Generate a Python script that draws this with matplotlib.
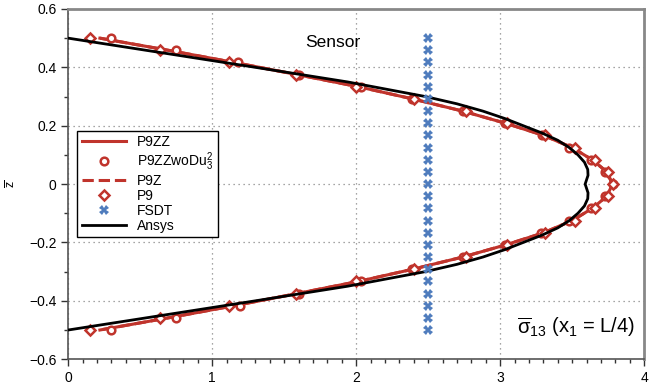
import numpy as np
import matplotlib.pyplot as plt
from matplotlib.ticker import MultipleLocator, FuncFormatter

plt.rcParams['font.family'] = ['Liberation Sans', 'DejaVu Sans']
plt.rcParams['mathtext.fontset'] = 'custom'
plt.rcParams['mathtext.rm'] = 'Liberation Sans'
plt.rcParams['mathtext.it'] = 'Liberation Sans'
plt.rcParams['mathtext.sf'] = 'Liberation Sans'

# thickness coordinate of the red curves
z_red = [0.5, 0.458, 0.417, 0.375, 0.333, 0.292, 0.25, 0.208, 0.167, 0.125, 0.083, 0.042, 0.0,
         -0.042, -0.083, -0.125, -0.167, -0.208, -0.25, -0.292, -0.333, -0.375, -0.417, -0.458, -0.5]

p9zz = [0.22, 0.70, 1.15, 1.59, 2.02, 2.39, 2.74, 3.04, 3.30, 3.50, 3.64, 3.74, 3.78,
        3.74, 3.64, 3.50, 3.30, 3.04, 2.74, 2.39, 2.02, 1.59, 1.15, 0.70, 0.22]
p9zz_wodu = [0.30, 0.75, 1.18, 1.60, 2.03, 2.39, 2.74, 3.03, 3.29, 3.48, 3.63, 3.73, 3.78,
             3.73, 3.63, 3.48, 3.28, 3.03, 2.74, 2.39, 2.03, 1.60, 1.19, 0.75, 0.30]
p9z = p9zz
p9 = [0.15, 0.64, 1.12, 1.58, 2.00, 2.40, 2.76, 3.05, 3.31, 3.52, 3.66, 3.75, 3.78,
      3.75, 3.66, 3.52, 3.31, 3.05, 2.76, 2.40, 2.00, 1.58, 1.12, 0.64, 0.15]

# FSDT at the sensor position
fsdt_x = [2.5] * 25
fsdt_z = [0.5, 0.4583, 0.4167, 0.375, 0.3333, 0.2917, 0.25, 0.2083, 0.1667, 0.125, 0.0833, 0.0417, 0.0,
          -0.0417, -0.0833, -0.125, -0.1667, -0.2083, -0.25, -0.2917, -0.3333, -0.375, -0.4167, -0.4583, -0.5]

# Ansys reference curve
ansys_z = [0.5, 0.45, 0.4, 0.35, 0.3, 0.275, 0.25, 0.225, 0.2, 0.175, 0.15, 0.125, 0.1, 0.075, 0.05, 0.03, 0.012, 0.0,
           -0.012, -0.03, -0.05, -0.075, -0.1, -0.125, -0.15, -0.175, -0.2, -0.225, -0.25, -0.275, -0.3, -0.35, -0.4, -0.45, -0.5]
ansys_x = [0.0, 0.65, 1.30, 1.94, 2.48, 2.70, 2.88, 3.03, 3.16, 3.29, 3.40, 3.48, 3.54, 3.585, 3.608, 3.61, 3.598, 3.59,
           3.598, 3.61, 3.608, 3.585, 3.54, 3.48, 3.40, 3.29, 3.16, 3.03, 2.88, 2.70, 2.48, 1.94, 1.30, 0.65, 0.0]

red = '#c0342c'
blue = '#4f7cbd'

fig = plt.figure(figsize=(6.56, 3.9), dpi=100)
ax = fig.add_axes([0.104, 0.079, 0.878, 0.898])

ax.plot(p9zz, z_red, '-', color=red, lw=2.2, label='P9ZZ', zorder=3)
ax.plot(p9zz_wodu, z_red, 'o', color=red, mfc='white', mew=1.8, ms=5.5,
        linestyle='none', label=r'P9ZZwoDu$^2_3$', zorder=4)
ax.plot(p9z, z_red, '--', color=red, lw=2.2, label='P9Z', zorder=3)
ax.plot(p9, z_red, 'D', color=red, mfc='white', mew=1.8, ms=5,
        linestyle='none', label='P9', zorder=4)
ax.plot(fsdt_x, fsdt_z, 'X', color=blue, ms=7, mew=0, linestyle='none', label='FSDT', zorder=6)
ax.plot(ansys_x, ansys_z, '-', color='black', lw=2, label='Ansys', zorder=5)

ax.set_xlim(0, 4)
ax.set_ylim(-0.6, 0.6)
ax.xaxis.set_major_locator(MultipleLocator(1))
ax.xaxis.set_minor_locator(MultipleLocator(0.1))
ax.yaxis.set_major_locator(MultipleLocator(0.2))
ax.yaxis.set_minor_locator(MultipleLocator(0.1))
fmt = FuncFormatter(lambda v, p: ('%g' % round(v, 3)).replace('-', '\u2212'))
ax.xaxis.set_major_formatter(fmt)
ax.yaxis.set_major_formatter(fmt)
ax.tick_params(which='major', direction='out', length=5, width=1, labelsize=10, color='#333333')
ax.tick_params(which='minor', direction='out', length=3, width=1, color='#333333')
ax.grid(True, which='major', linestyle=(0, (1, 3)), color='#888888', lw=0.9)

for s in ['left', 'bottom']:
    ax.spines[s].set_color('#555555')
    ax.spines[s].set_linewidth(1.2)
for s in ['top', 'right']:
    ax.spines[s].set_color('#888888')
    ax.spines[s].set_linewidth(2)

ax.set_ylabel(r'$\overline{z}$', fontsize=9, rotation=90)
ax.yaxis.set_label_coords(-0.087, 0.5)

ax.text(1.84, 0.485, 'Sensor', fontsize=12.5, ha='center', va='center')
ax.text(3.94, -0.49, r'$\overline{\sigma}_{13}$ (x$_1$ = L/4)', fontsize=14.5, ha='right', va='center')

leg = ax.legend(loc='upper left', bbox_to_anchor=(0.004, 0.672), fontsize=10, frameon=True,
                fancybox=False, edgecolor='black', framealpha=1, handlelength=3.2,
                borderpad=0.3, labelspacing=0.08, handletextpad=0.8)
leg.get_frame().set_linewidth(1)

fig.savefig('out.png', dpi=100)
